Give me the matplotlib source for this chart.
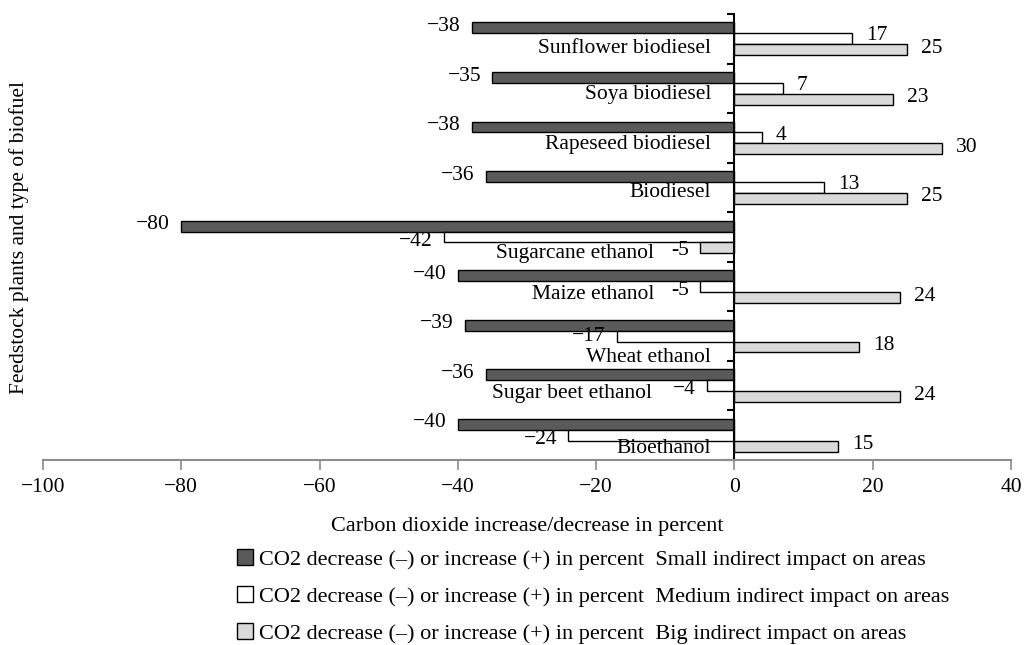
import matplotlib
matplotlib.use("Agg")
import matplotlib.pyplot as plt
from matplotlib.patches import Patch

plt.rcParams['font.family'] = ['Liberation Serif', 'DejaVu Serif']
plt.rcParams['font.size'] = 15.5

categories = ["Sunflower biodiesel", "Soya biodiesel", "Rapeseed biodiesel", "Biodiesel",
              "Sugarcane ethanol", "Maize ethanol", "Wheat ethanol", "Sugar beet ethanol",
              "Bioethanol"]
small_impact = [-38, -35, -38, -36, -80, -40, -39, -36, -40]
medium_impact = [17, 7, 4, 13, -42, -5, -17, -4, -24]
big_impact = [25, 23, 30, 25, -5, 24, 18, 24, 15]
series_names = ["CO2 decrease (\u2013) or increase (+) in percent  Small indirect impact on areas",
                "CO2 decrease (\u2013) or increase (+) in percent  Medium indirect impact on areas",
                "CO2 decrease (\u2013) or increase (+) in percent  Big indirect impact on areas"]
# labels written with a hyphen instead of a minus in the original
hyphen_labels = {(4, 2), (5, 1)}

colors = ["#5a5a5a", "#ffffff", "#d9d9d9"]

fig = plt.figure(figsize=(10.24, 6.45), dpi=100)
ax = fig.add_axes([43/1024, 1 - 460/645, (1011 - 43)/1024, (460 - 14)/645])

h = 0.22
ypos = list(range(len(categories)))
all_series = [small_impact, medium_impact, big_impact]
# vertical nudge of value labels (points) per series: (positive, negative)
label_dy = [(1, 1), (2, -3), (1, -2)]
for s, vals in enumerate(all_series):
    offs = (s - 1) * h
    ax.barh([y + offs for y in ypos], vals, height=h, color=colors[s],
            edgecolor="black", linewidth=1)
    for i, v in enumerate(vals):
        if (i, s) in hyphen_labels:
            txt = "-%d" % abs(v)
        elif v < 0:
            txt = "\u2212%d" % abs(v)
        else:
            txt = "%d" % v
        dy = label_dy[s][1] if v < 0 else label_dy[s][0]
        if categories[i] == "Wheat ethanol" and s == 1:
            dy = 0
        if v < 0:
            ax.annotate(txt, (v, i + offs), xytext=(-8, dy),
                        textcoords="offset points", ha="right", va="center")
        else:
            ax.annotate(txt, (v, i + offs), xytext=(10, dy),
                        textcoords="offset points", ha="left", va="center")

# category names sit just left of the zero line, below the group centre
name_x = [-3.4, -3.4, -3.4, -3.4, -11.6, -11.6, -3.4, -11.9, -3.4]
name_dy = [0.2, 0.13, 0.13, 0.11, 0.33, 0.17, 0.43, 0.15, 0.27]
for i, name in enumerate(categories):
    ax.text(name_x[i], i + name_dy[i], name, ha="right", va="center")

ax.set_xlim(-100, 40)
ax.set_ylim(len(categories) - 0.5, -0.5)
ax.set_xticks(range(-100, 41, 20))
ax.set_xticklabels([("\u2212%d" % -t) if t < 0 else str(t) for t in range(-100, 41, 20)])
ax.set_yticks([y - 0.5 for y in range(len(categories) + 1)])
ax.set_yticklabels([])

ax.spines["top"].set_visible(False)
ax.spines["right"].set_visible(False)
ax.spines["left"].set_position(("data", 0))
ax.spines["left"].set_linewidth(1.5)
ax.spines["bottom"].set_color("#8c8c8c")
ax.spines["bottom"].set_linewidth(1.5)
ax.tick_params(axis="x", direction="out", length=7, color="#8c8c8c", width=1.2, pad=6)
ax.tick_params(axis="y", direction="out", length=5, width=1.5)

fig.text(527/1024, 1 - 527/645, "Carbon dioxide increase/decrease in percent",
         ha="center", va="center", fontsize=16)
fig.text(19/1024, 1 - 237/645, "Feedstock plants and type of biofuel",
         ha="center", va="center", rotation=90, fontsize=15.5)

handles = [Patch(facecolor=c, edgecolor="black", linewidth=1) for c in colors]
fig.legend(handles, series_names, loc="upper left", bbox_to_anchor=(237/1024, 1 - 549/645),
           frameon=False, fontsize=16, handlelength=0.7, handleheight=0.7,
           handletextpad=0.28, labelspacing=0.74, borderpad=0, borderaxespad=0)

fig.savefig("out.png", dpi=100)
